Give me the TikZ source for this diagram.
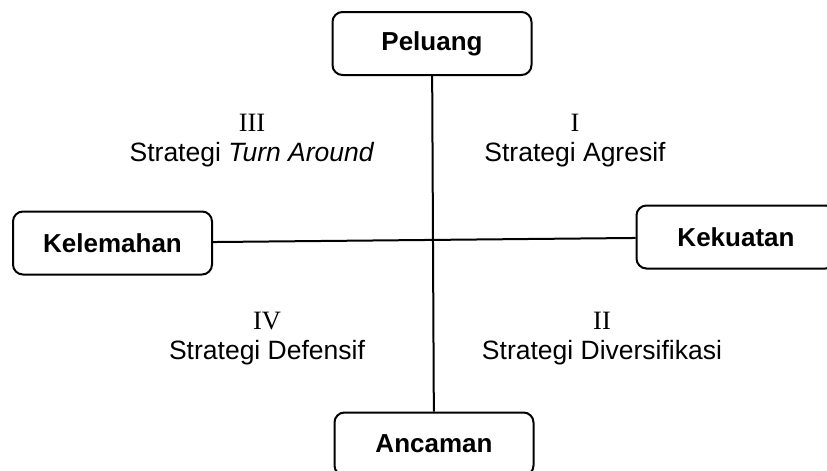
\documentclass[tikz,border=0pt]{standalone}
\usepackage{fontspec}
\setmainfont{Liberation Sans}
\newfontfamily\romanfont{Liberation Serif}
\usepackage{tikz}
\tikzset{
	factor/.style={
			draw, line width=2pt, rounded corners=10pt, fill=white,
			minimum width=199pt, minimum height=63pt,
			font=\fontsize{26}{30}\selectfont\bfseries
		},
	quadrant/.style={
			align=center, font=\fontsize{26.5}{30}\selectfont
		}
}

\begin{document}
\begin{tikzpicture}[x=1pt,y=-1pt]
			\useasboundingbox (0,0) rectangle (827,471);

			% Factors
			\node[factor] (peluang) at (432,43.5) {Peluang};
			\node[factor] (kelemahan) at (112.5,243) {Kelemahan};
			\node[factor] (kekuatan) at (736,237) {Kekuatan};
			\node[factor] (ancaman) at (434,444) {Ancaman};

			% Axes
			\draw[line width=2pt] (peluang) -- (ancaman);
			\draw[line width=2pt] (kelemahan) -- (kekuatan);

			% Quadrants
			\node[quadrant] (agresif) at (575,141) {{\romanfont I}\\Strategi Agresif};
			\node[quadrant] (turnaround) at (252,141) {{\romanfont III}\\Strategi \textit{Turn Around}};
			\node[quadrant] (defensif) at (267,339) {{\romanfont IV}\\Strategi Defensif};
			\node[quadrant] (diversifikasi) at (602,339) {{\romanfont II}\\Strategi Diversifikasi};
		\end{tikzpicture}
\end{document}
